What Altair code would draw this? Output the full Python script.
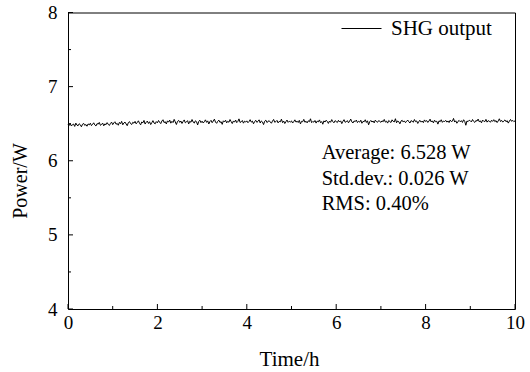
import altair as alt
import numpy as np
import pandas as pd

power = [
    6.491, 6.476, 6.502, 6.469, 6.487, 6.495, 6.463, 6.508, 6.481, 6.472,
    6.499, 6.486, 6.458, 6.493, 6.504, 6.477, 6.489, 6.466, 6.497, 6.484,
    6.506, 6.474, 6.491, 6.512, 6.483, 6.469, 6.501, 6.494, 6.517, 6.478,
    6.489, 6.508, 6.471, 6.498, 6.486, 6.514, 6.492, 6.476, 6.503, 6.521,
    6.487, 6.511, 6.526, 6.493, 6.504, 6.479, 6.518, 6.499, 6.531, 6.485,
    6.509, 6.522, 6.496, 6.473, 6.514, 6.528, 6.501, 6.489, 6.519, 6.507,
    6.531, 6.498, 6.517, 6.539, 6.506, 6.484, 6.523, 6.512, 6.544, 6.495,
    6.519, 6.535, 6.503, 6.526, 6.488, 6.514, 6.541, 6.509, 6.498, 6.528,
    6.512, 6.543, 6.519, 6.501, 6.536, 6.553, 6.514, 6.527, 6.496, 6.538,
    6.521, 6.549, 6.507, 6.532, 6.515, 6.558, 6.524, 6.489, 6.531, 6.545,
    6.518, 6.536, 6.503, 6.529, 6.551, 6.512, 6.524, 6.541, 6.497, 6.533,
    6.519, 6.556, 6.522, 6.508, 6.539, 6.527, 6.483, 6.531, 6.546, 6.514,
    6.534, 6.509, 6.527, 6.552, 6.518, 6.538, 6.496, 6.529, 6.545, 6.513,
    6.536, 6.561, 6.521, 6.505, 6.532, 6.548, 6.517, 6.527, 6.491, 6.539,
    6.524, 6.547, 6.511, 6.533, 6.519, 6.556, 6.528, 6.502, 6.537, 6.521,
    6.549, 6.514, 6.531, 6.565, 6.516, 6.526, 6.543, 6.507, 6.534, 6.522,
    6.538, 6.513, 6.529, 6.554, 6.521, 6.535, 6.499, 6.527, 6.546, 6.518,
    6.531, 6.552, 6.509, 6.537, 6.524, 6.488, 6.533, 6.548, 6.516, 6.529,
    6.541, 6.522, 6.506, 6.535, 6.557, 6.519, 6.528, 6.544, 6.511, 6.532,
    6.525, 6.561, 6.514, 6.536, 6.502, 6.527, 6.549, 6.518, 6.533, 6.523,
    6.537, 6.509, 6.528, 6.552, 6.521, 6.534, 6.516, 6.545, 6.497, 6.531,
    6.526, 6.558, 6.519, 6.533, 6.511, 6.539, 6.527, 6.566, 6.514, 6.529,
    6.521, 6.543, 6.508, 6.535, 6.525, 6.551, 6.513, 6.529, 6.493, 6.538,
    6.522, 6.547, 6.531, 6.504, 6.536, 6.519, 6.555, 6.527, 6.512, 6.541,
    6.529, 6.516, 6.545, 6.523, 6.538, 6.501, 6.532, 6.554, 6.519, 6.527,
    6.541, 6.512, 6.535, 6.562, 6.524, 6.509, 6.537, 6.528, 6.549, 6.515,
    6.533, 6.521, 6.547, 6.506, 6.531, 6.526, 6.553, 6.517, 6.539, 6.485,
    6.528, 6.544, 6.522, 6.536, 6.511, 6.548, 6.529, 6.519, 6.541, 6.532,
    6.518, 6.539, 6.526, 6.557, 6.521, 6.534, 6.508, 6.543, 6.529, 6.516,
    6.552, 6.531, 6.524, 6.567, 6.512, 6.537, 6.527, 6.498, 6.535, 6.546,
    6.522, 6.538, 6.514, 6.531, 6.549, 6.526, 6.509, 6.541, 6.533, 6.519,
    6.556, 6.528, 6.537, 6.503, 6.532, 6.545, 6.521, 6.536, 6.514, 6.551,
    6.529, 6.542, 6.517, 6.535, 6.561, 6.523, 6.538, 6.511, 6.547, 6.527,
    6.533, 6.494, 6.539, 6.526, 6.553, 6.518, 6.536, 6.529, 6.545, 6.521,
    6.537, 6.515, 6.548, 6.529, 6.534, 6.571, 6.522, 6.539, 6.506, 6.531,
    6.544, 6.526, 6.541, 6.517, 6.553, 6.532, 6.479, 6.536, 6.528, 6.547,
    6.539, 6.524, 6.556, 6.531, 6.517, 6.543, 6.535, 6.562, 6.526, 6.538,
    6.512, 6.549, 6.533, 6.527, 6.558, 6.521, 6.541, 6.534, 6.519, 6.546,
    6.531, 6.554, 6.527, 6.542, 6.515, 6.538, 6.566, 6.529, 6.545, 6.521,
    6.537, 6.551, 6.526, 6.541, 6.508, 6.535, 6.557, 6.532, 6.544, 6.528,
    6.539,
]
time_h = np.linspace(0, 10, len(power))
series_name = "SHG output"

x_major = [0, 2, 4, 6, 8, 10]
x_minor = [1, 3, 5, 7, 9]
y_major = [4, 5, 6, 7, 8]
y_minor = [4.5, 5.5, 6.5, 7.5]

anno_text = ["Average: 6.528 W", "Std.dev.: 0.026 W", "RMS: 0.40%"]
anno_x = [5.675, 5.675, 5.675]
anno_y = [6.024, 5.673, 5.335]

FONT = "Liberation Serif"
W, H = 447, 296.5

df = pd.DataFrame({"t": time_h, "p": power, "s": series_name})

xs = alt.Scale(domain=[0, 10], nice=False)
ys = alt.Scale(domain=[4, 8], nice=False)

line = alt.Chart(df).mark_line(strokeWidth=1).encode(
    x=alt.X("t:Q", scale=xs, title="Time/h",
            axis=alt.Axis(values=x_major, format="d", tickSize=0, domain=False, grid=False,
                          labelPadding=4, labelFlush=False, labelFont=FONT, labelFontSize=19,
                          labelColor="black", titleFont=FONT, titleFontSize=21,
                          titleFontWeight="normal", titleColor="black",
                          titleX=221, titleY=56, titleBaseline="alphabetic")),
    y=alt.Y("p:Q", scale=ys, title="Power/W",
            axis=alt.Axis(values=y_major, format="d", tickSize=0, domain=False, grid=False,
                          labelPadding=11, labelFlush=False, labelFont=FONT, labelFontSize=19,
                          labelColor="black", titleFont=FONT, titleFontSize=20,
                          titleFontWeight="normal", titleColor="black",
                          titleX=-48, titleY=168, titleAngle=-90,
                          titleBaseline="middle", titleAlign="center")),
    color=alt.Color("s:N", scale=alt.Scale(range=["black"]), title=None,
                    legend=alt.Legend(orient="none", legendX=273, legendY=-4.5,
                                      symbolType="stroke", symbolSize=1600,
                                      symbolStrokeWidth=1, labelOffset=9,
                                      labelFont=FONT, labelFontSize=21,
                                      labelColor="black", padding=0)),
)

xmaj = alt.Chart(pd.DataFrame({"v": x_major})).mark_rule(color="black").encode(
    x=alt.X("v:Q", scale=xs), y=alt.value(H), y2=alt.value(H - 5))
xmin = alt.Chart(pd.DataFrame({"v": x_minor})).mark_rule(color="black").encode(
    x=alt.X("v:Q", scale=xs), y=alt.value(H), y2=alt.value(H - 3))
ymaj = alt.Chart(pd.DataFrame({"v": y_major})).mark_rule(color="black").encode(
    y=alt.Y("v:Q", scale=ys), x=alt.value(0), x2=alt.value(5))
ymin = alt.Chart(pd.DataFrame({"v": y_minor})).mark_rule(color="black").encode(
    y=alt.Y("v:Q", scale=ys), x=alt.value(0), x2=alt.value(3))

anno = alt.Chart(pd.DataFrame({"x": anno_x, "y": anno_y, "txt": anno_text})).mark_text(
    font=FONT, fontSize=20.5, align="left", baseline="alphabetic", color="black"
).encode(x=alt.X("x:Q", scale=xs), y=alt.Y("y:Q", scale=ys), text="txt:N")

chart = alt.layer(line, xmaj, xmin, ymaj, ymin, anno).properties(
    width=W, height=H, autosize="none",
    padding={"left": 68, "top": 12.5, "right": 15, "bottom": 63},
).configure_view(stroke="black", strokeWidth=1)

chart.save("out.html", embed_options={"renderer": "svg", "actions": False})
